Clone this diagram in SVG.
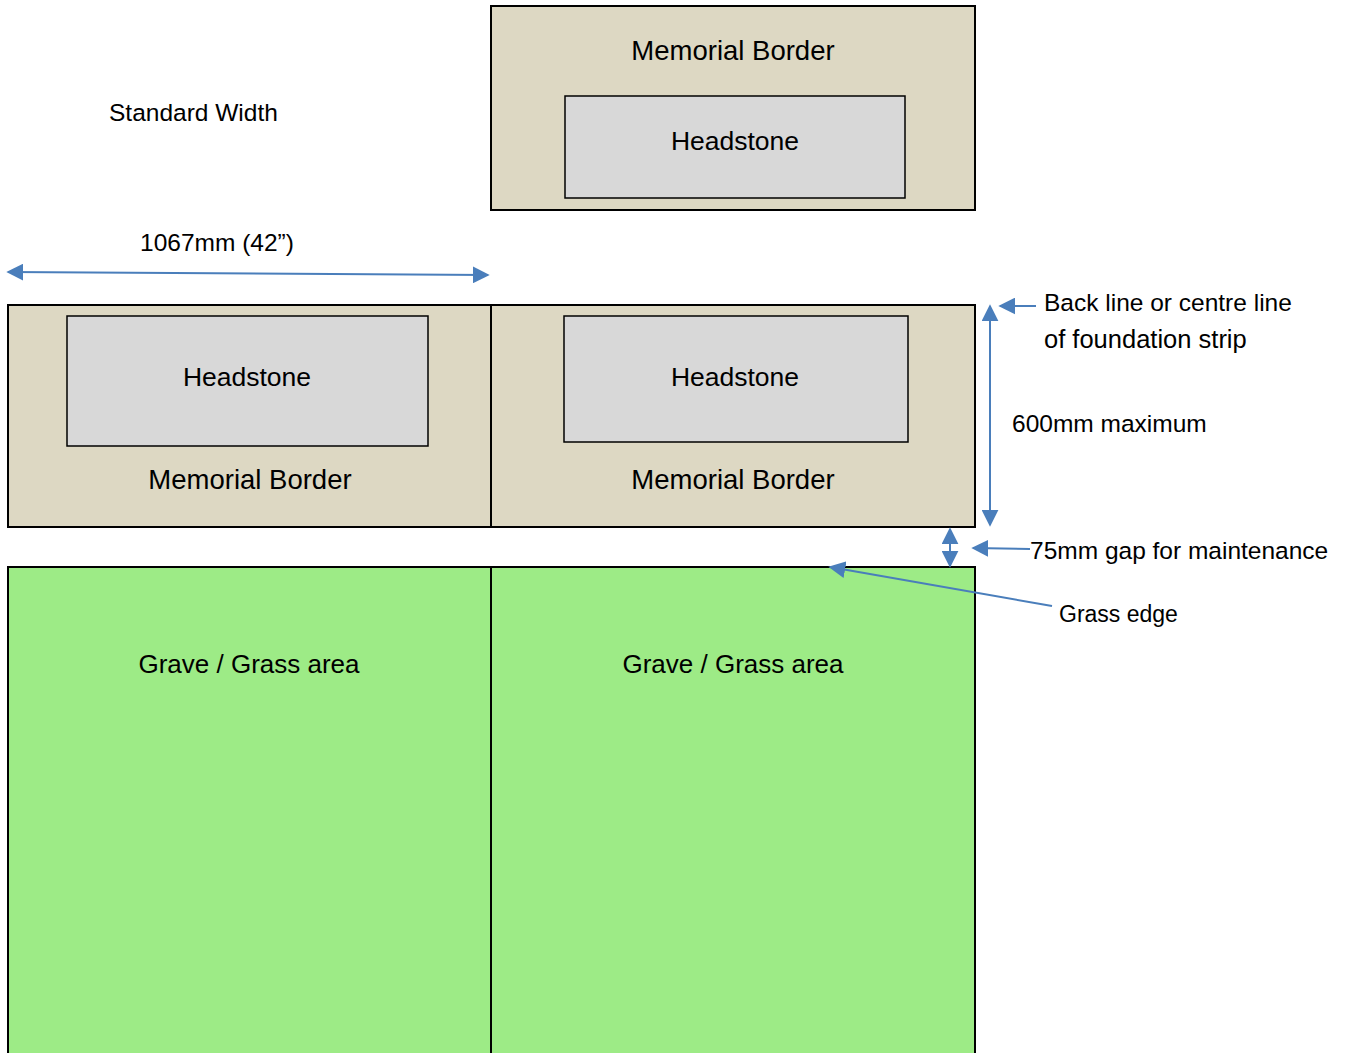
<svg xmlns="http://www.w3.org/2000/svg" width="1350" height="1053" viewBox="0 0 1350 1053">
  <style>
    .border { fill: #ddd8c3; stroke: #000; stroke-width: 2; }
    .stone { fill: #d8d8d8; stroke: #000; stroke-width: 1.5; }
    .grass { fill: #9deb86; stroke: #000; stroke-width: 2; }
    .lbl { font-family: "Liberation Sans", Arial, sans-serif; font-size: 26.5px; fill: #000; }
    .mb { font-size: 27.5px; }
    .gr { font-size: 26px; }
    .mid { text-anchor: middle; }
    .note { font-family: "Liberation Sans", Arial, sans-serif; font-size: 24.5px; fill: #000; }
    .dim { stroke: #4a7ebb; stroke-width: 2; fill: none; }
  </style>
  <defs>
    <marker id="ahL" viewBox="0 0 10 10" refX="9" refY="5" markerWidth="17" markerHeight="17" markerUnits="userSpaceOnUse" orient="auto-start-reverse">
      <path d="M0,0 L10,5 L0,10 z" fill="#4a7ebb"/>
    </marker>
  </defs>

  <!-- top: standard width plot -->
  <g id="top-plot">
    <rect class="border" x="491" y="6" width="484" height="204"/>
    <text class="lbl mb mid" x="733" y="60">Memorial Border</text>
  </g>
  <g id="top-headstone">
    <rect class="stone" x="565" y="96" width="340" height="102"/>
    <text class="lbl mid" x="735" y="150">Headstone</text>
  </g>

  <text class="note" x="109" y="121">Standard Width</text>
  <text class="note" x="140" y="251">1067mm (42”)</text>

  <!-- row of paired plots -->
  <g id="left-plot">
    <rect class="border" x="8" y="305" width="483" height="222"/>
    <text class="lbl mb mid" x="250" y="489">Memorial Border</text>
  </g>
  <g id="left-headstone">
    <rect class="stone" x="67" y="316" width="361" height="130"/>
    <text class="lbl mid" x="247" y="386">Headstone</text>
  </g>
  <g id="right-plot">
    <rect class="border" x="491" y="305" width="484" height="222"/>
    <text class="lbl mb mid" x="733" y="489">Memorial Border</text>
  </g>
  <g id="right-headstone">
    <rect class="stone" x="564" y="316" width="344" height="126"/>
    <text class="lbl mid" x="735" y="386">Headstone</text>
  </g>

  <!-- grass areas -->
  <g id="left-grass">
    <rect class="grass" x="8" y="567" width="483" height="495"/>
    <text class="lbl gr mid" x="249" y="673">Grave / Grass area</text>
  </g>
  <g id="right-grass">
    <rect class="grass" x="491" y="567" width="484" height="495"/>
    <text class="lbl gr mid" x="733" y="673">Grave / Grass area</text>
  </g>

  <!-- dimension notes -->
  <text class="note" x="1044" y="311">Back line or centre line</text>
  <text class="note" x="1044" y="348" style="font-size:25.5px">of foundation strip</text>
  <text class="note" x="1012" y="432">600mm maximum</text>
  <text class="note" x="1030" y="559">75mm gap for maintenance</text>
  <text class="note" x="1059" y="622" style="font-size:23px">Grass edge</text>

  <g id="connectors">
    <line class="dim" x1="8" y1="272" x2="488" y2="275" marker-start="url(#ahL)" marker-end="url(#ahL)"/>
    <line class="dim" x1="990" y1="306" x2="990" y2="525" marker-start="url(#ahL)" marker-end="url(#ahL)"/>
    <line class="dim" x1="1036" y1="306" x2="1000" y2="306" marker-end="url(#ahL)"/>
    <line class="dim" x1="950" y1="529" x2="950" y2="566" marker-start="url(#ahL)" marker-end="url(#ahL)"/>
    <line class="dim" x1="1030" y1="549" x2="973" y2="548" marker-end="url(#ahL)"/>
    <line class="dim" x1="1052" y1="606" x2="830" y2="567" marker-end="url(#ahL)"/>
  </g>
</svg>
